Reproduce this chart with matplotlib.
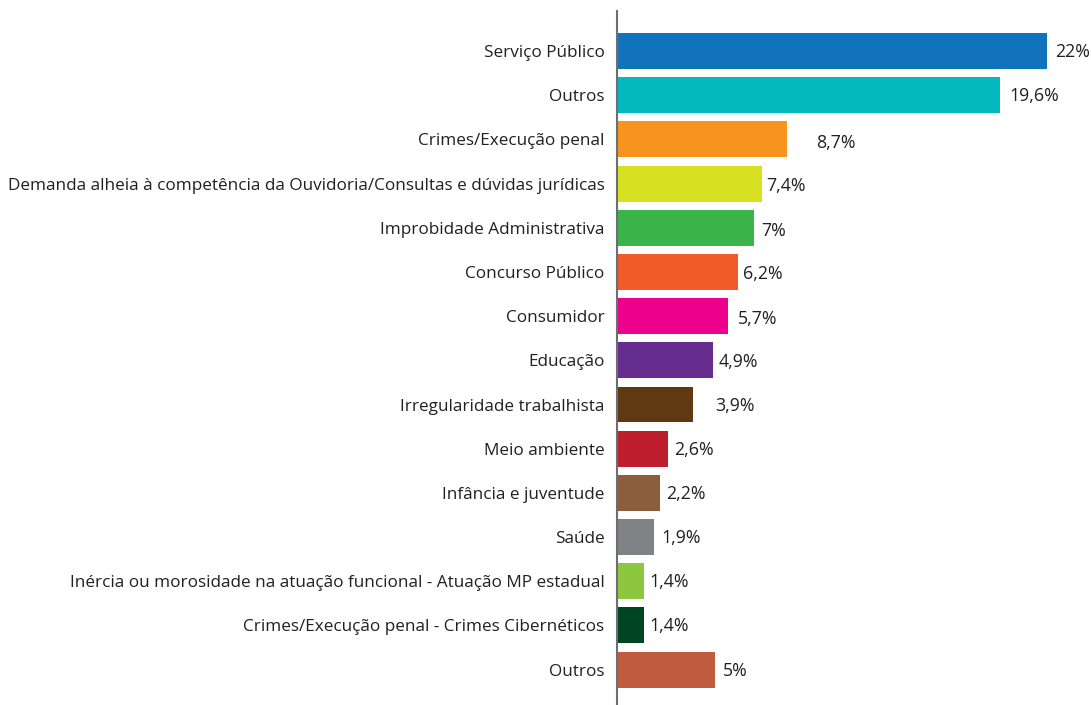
import matplotlib.pyplot as plt
from matplotlib.transforms import offset_copy

plt.rcParams['font.family'] = ['Open Sans', 'DejaVu Sans']

# dados do gráfico
categorias = [
    "Serviço Público",
    "Outros",
    "Crimes/Execução penal",
    "Demanda alheia à competência da Ouvidoria/Consultas e dúvidas jurídicas",
    "Improbidade Administrativa",
    "Concurso Público",
    "Consumidor",
    "Educação",
    "Irregularidade trabalhista",
    "Meio ambiente",
    "Infância e juventude",
    "Saúde",
    "Inércia ou morosidade na atuação funcional - Atuação MP estadual",
    "Crimes/Execução penal - Crimes Cibernéticos",
    "Outros",
]
valores = [22, 19.6, 8.7, 7.4, 7, 6.2, 5.7, 4.9, 3.9, 2.6, 2.2, 1.9, 1.4, 1.4, 5]
rotulos = ["22%", "19,6%", "8,7%", "7,4%", "7%", "6,2%", "5,7%", "4,9%", "3,9%",
           "2,6%", "2,2%", "1,9%", "1,4%", "1,4%", "5%"]

cores = ["#1173bb", "#05b8bd", "#f7941d", "#d7df21", "#3bb54a", "#f15a29", "#ec008c",
         "#662d91", "#603913", "#be1e2d", "#8b5e3c", "#808285", "#8dc63f", "#004521",
         "#bf5b3e"]
# deslocamento dos rótulos (px): horizontal, vertical
desloc_x = [8, 9, 29, 5, 7, 5, 9, 6, 22, 6, 6, 7, 5, 5, 8]
desloc_y = [-1, -1, -4, -2, -3, -2, -3, -2, -1, -1, -1, -1, -1, -1, -1]

fig = plt.figure(figsize=(10.91, 7.05), dpi=100)
ax = fig.add_axes([617 / 1091, 0, 474 / 1091, 694 / 705])

pos = list(range(len(valores)))
ax.barh(pos, valores, height=0.814, color=cores)

for i, (v, r) in enumerate(zip(valores, rotulos)):
    tr = offset_copy(ax.transData, fig=fig, x=desloc_x[i] * 0.72, y=desloc_y[i] * 0.72, units='points')
    ax.text(v, i, r, transform=tr, ha='left', va='center', fontsize=12.8, color='#231f20')

ax.set_xlim(0, 24.25)
ax.set_ylim(14.8, -0.905)
ax.set_yticks(pos)
ax.set_yticklabels(categorias, fontsize=12.35, color='#231f20')
ax.tick_params(axis='y', length=0, pad=9)
ax.set_xticks([])
for s in ['top', 'right', 'bottom']:
    ax.spines[s].set_visible(False)
ax.spines['left'].set_color('#6d6e71')
ax.spines['left'].set_linewidth(1.5)

fig.savefig("out.png", dpi=100)
